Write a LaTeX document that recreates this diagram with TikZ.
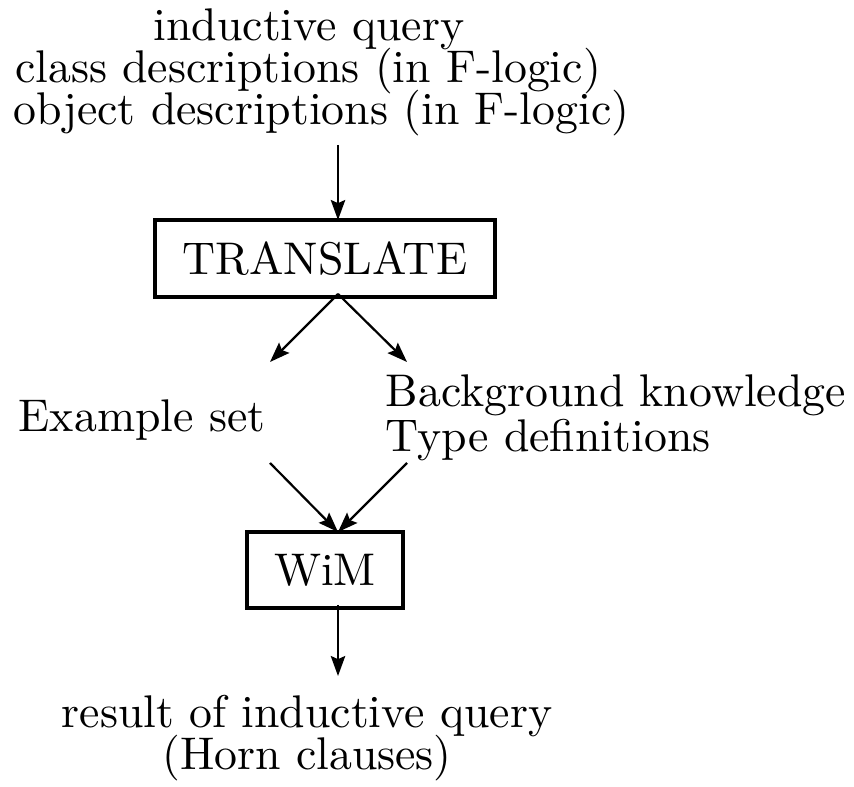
\documentclass[tikz,border=0pt]{standalone}
\usepackage{fontspec}
\setmainfont{lmroman10}[Extension=.otf,UprightFont=*-regular]
\usetikzlibrary{arrows.meta}
\begin{document}
\begin{tikzpicture}[x=0.25pt,y=-0.25pt,
  txt/.style={inner sep=0pt,anchor=base,font=\fontsize{11.45}{13}\selectfont},
  txtl/.style={txt,anchor=base west},
  procbox/.style={draw,line width=0.9pt,inner sep=0pt,font=\fontsize{11.45}{13}\selectfont},
  conn/.style={line width=0.55pt,-{Stealth[length=5pt,width=3.6pt,inset=0.8pt]}}]
\useasboundingbox (0,0) rectangle (854,787);
% input description
\node[txt] (inp1) at (309,41) {inductive query};
\node[txt] (inp2) at (308,83) {class descriptions (in F-logic)};
\node[txt] (inp3) at (321.5,125) {object descriptions (in F-logic)};
\coordinate (inpS) at (338,145);
% translator box
\node[procbox,minimum width=85pt,minimum height=19.25pt] (tr) at (325,258.5) {TRANSLATE};
\coordinate (trIn) at (338,220);
\coordinate (trOut) at (338,294);
% outputs of the translator
\node[txtl] (ex) at (18,432) {Example set};
\node[txtl] (bg1) at (385,407) {Background knowledge};
\node[txtl] (bg2) at (385,452) {Type definitions};
\coordinate (exN) at (270,362);
\coordinate (bgN) at (407,362);
\coordinate (exS) at (270,463);
\coordinate (bgS) at (407,463);
% learner box
\node[procbox,minimum width=39pt,minimum height=19pt] (wim) at (325,570) {WiM};
\coordinate (wimIn) at (338,532);
\coordinate (wimOut) at (338,605);
% result
\node[txt] (res1) at (307,728) {result of inductive query};
\node[txt] (res2) at (307,770) {(Horn clauses)};
\coordinate (resN) at (338,676);
% connectors
\draw[conn] (inpS) -- (trIn);
\draw[conn] (trOut) -- (exN);
\draw[conn] (trOut) -- (bgN);
\draw[conn] (exS) -- (wimIn);
\draw[conn] (bgS) -- (wimIn);
\draw[conn] (wimOut) -- (resN);
\end{tikzpicture}
\end{document}
